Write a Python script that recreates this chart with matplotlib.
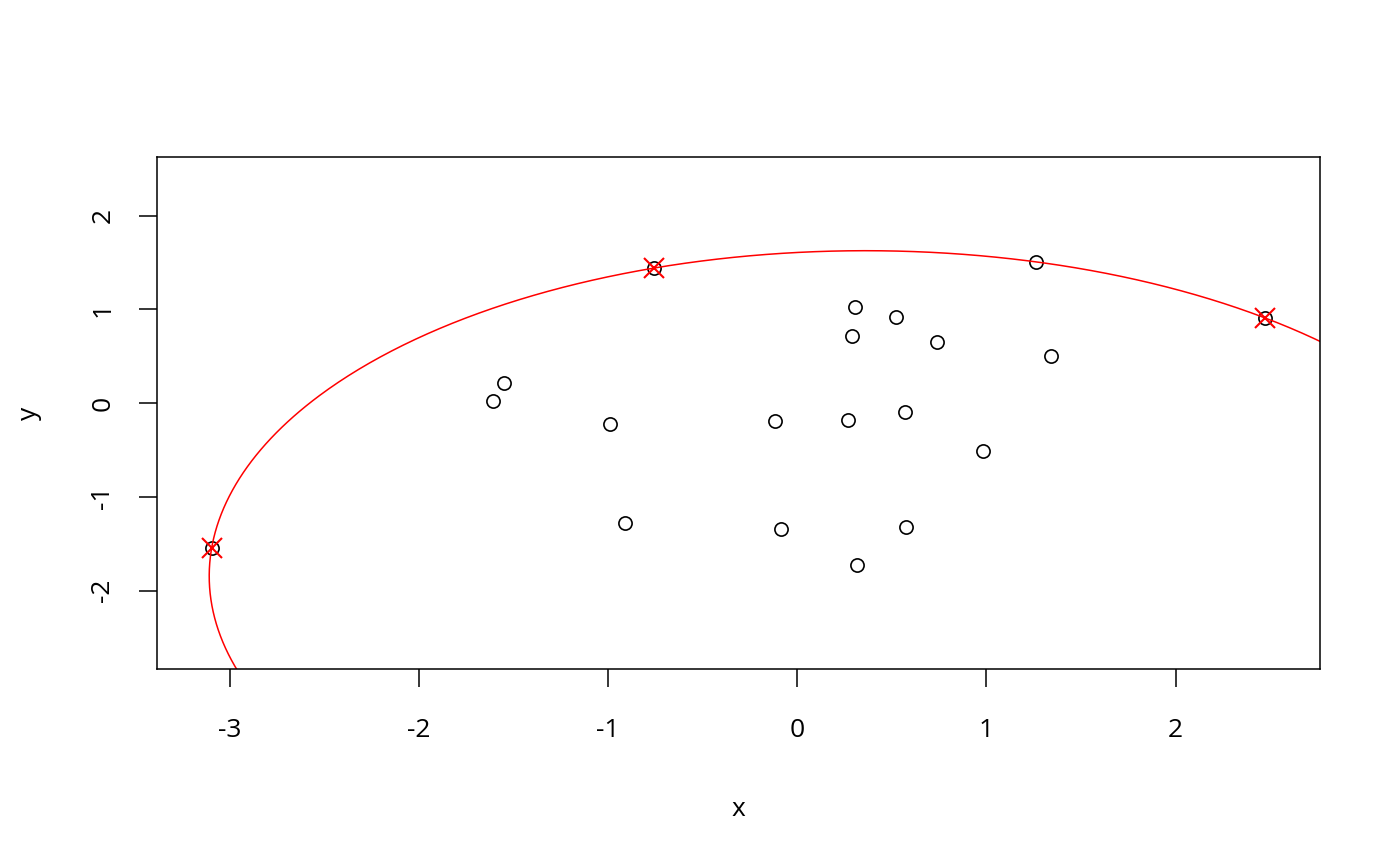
import matplotlib
matplotlib.use("Agg")
import matplotlib.pyplot as plt
import numpy as np

plt.rcParams['font.family'] = ['Open Sans', 'DejaVu Sans']
plt.rcParams['axes.unicode_minus'] = False

# points
x = [-3.097, -0.756, 1.263, 2.474, 0.307, 0.523, 0.291, 0.740, 1.342, -1.549,
     -1.607, -0.988, -0.116, 0.270, 0.571, 0.983, -0.909, -0.085, 0.576, 0.317]
y = [-1.547, 1.440, 1.504, 0.907, 1.024, 0.917, 0.715, 0.651, 0.501, 0.213,
     0.021, -0.224, -0.192, -0.181, -0.096, -0.512, -1.280, -1.344, -1.323, -1.728]

# the three chosen points (marked with red x)
sel = [0, 1, 3]

xticks = [-3, -2, -1, 0, 1, 2]
yticks = [-2, -1, 0, 1, 2]

# circle through the three chosen points
(x1, y1), (x2, y2), (x3, y3) = [(x[i], y[i]) for i in sel]
A = np.array([[x2 - x1, y2 - y1], [x3 - x1, y3 - y1]]) * 2
b = np.array([x2**2 - x1**2 + y2**2 - y1**2, x3**2 - x1**2 + y3**2 - y1**2])
cx, cy = np.linalg.solve(A, b)
r = np.hypot(x1 - cx, y1 - cy)
t = np.linspace(0, 2 * np.pi, 1000)

fig = plt.figure(figsize=(14, 8.66), dpi=100)
ax = fig.add_axes([157 / 1400, 1 - 669 / 866, (1320 - 157) / 1400, (669 - 157) / 866])

ax.plot(x, y, 'o', mfc='none', mec='black', ms=9.5, mew=1.2)
ax.plot(cx + r * np.cos(t), cy + r * np.sin(t), color='red', lw=1.1)
ax.plot([x[i] for i in sel], [y[i] for i in sel], 'x', color='red', ms=14, mew=1.5)

ax.set_xlim(-3.386, 2.764)
ax.set_ylim(-2.837, 2.624)
ax.set_xticks(xticks)
ax.set_yticks(yticks)
ax.tick_params(length=13, width=1.1, labelsize=19)
ax.tick_params(axis='x', pad=22)
ax.tick_params(axis='y', pad=17)
plt.setp(ax.get_yticklabels(), rotation=90, va='center')
for s in ax.spines.values():
    s.set_linewidth(1.1)

ax.set_xlabel('x', fontsize=19, labelpad=39)
ax.set_ylabel('y', fontsize=19, labelpad=35)

fig.savefig('out.png', dpi=100)
